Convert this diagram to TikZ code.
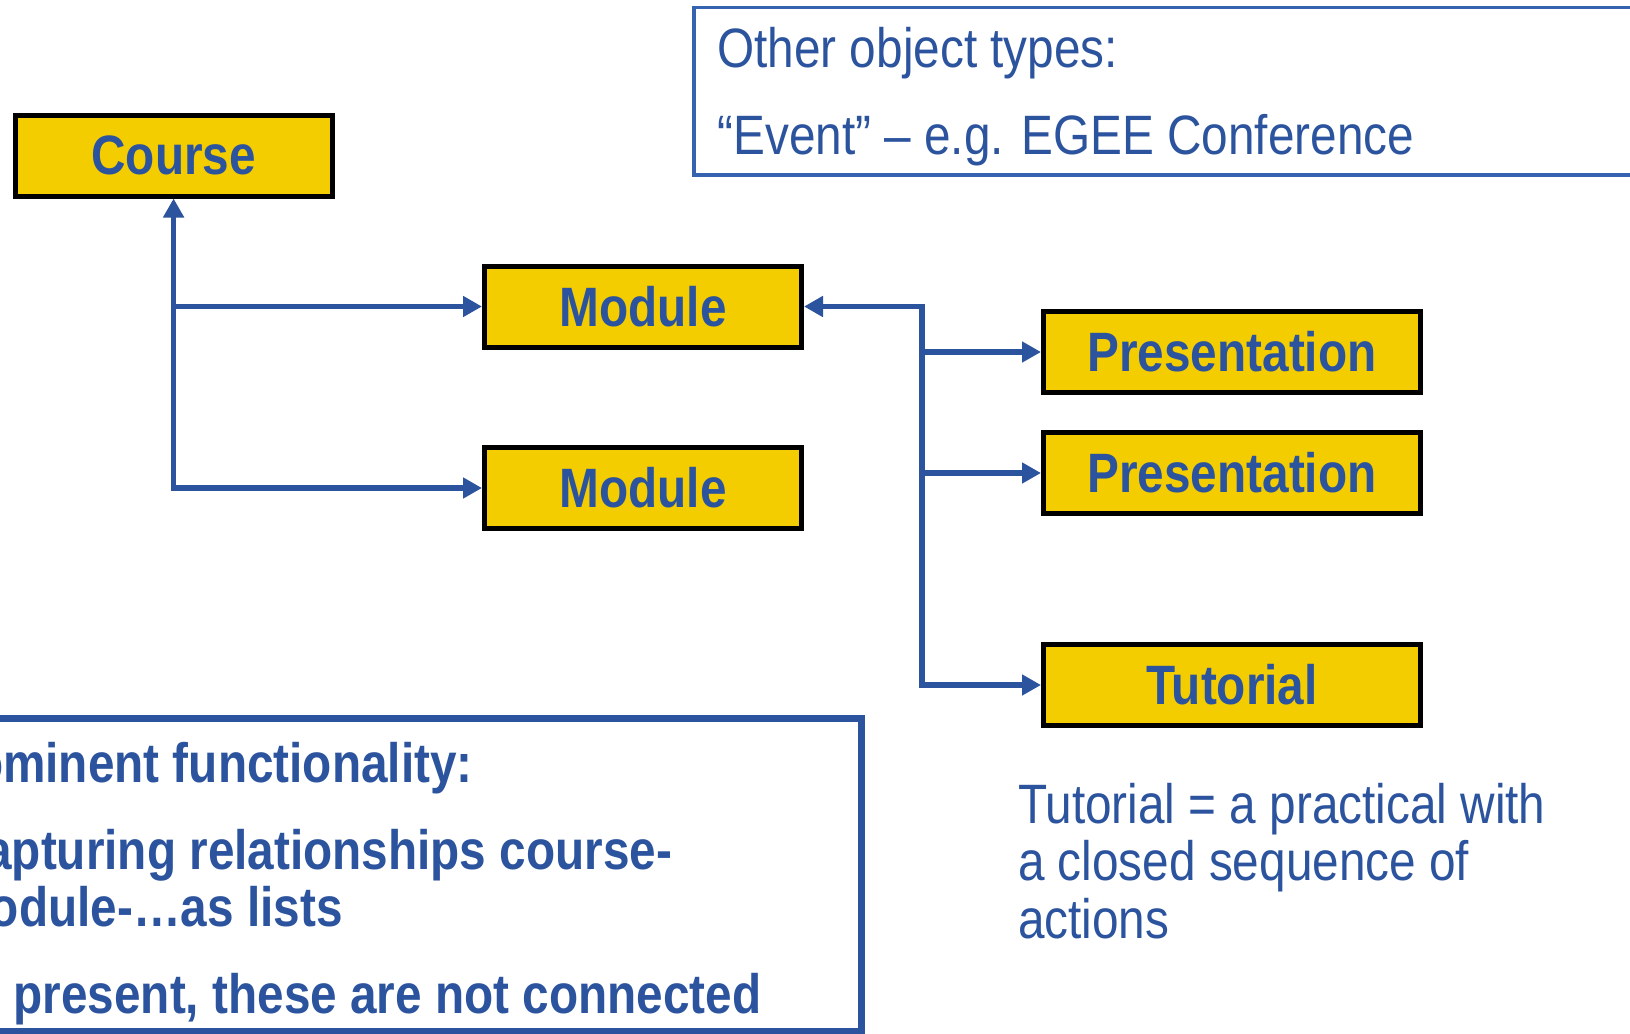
\documentclass[tikz,border=0pt]{standalone}
\usepackage{fontspec}
\setmainfont{Liberation Sans}[FakeStretch=0.86]
\usepackage{xcolor}
\usetikzlibrary{arrows.meta}

\definecolor{egeeblue}{HTML}{2C549E}
\definecolor{frameblue}{HTML}{3563B0}
\definecolor{egeeyellow}{HTML}{F4CD00}

\begin{document}
\begin{tikzpicture}[x=0.5pt,y=-0.5pt,
    >={Triangle[length=9.5pt,width=10pt]},
    objbox/.style={draw=black,fill=egeeyellow,line width=2.5pt,
        minimum width=158.5pt,minimum height=40.5pt,inner sep=0pt,
        text=egeeblue,font=\bfseries\fontsize{27.75}{29}\selectfont},
    widebox/.style={objbox,minimum width=188.5pt},
    link/.style={draw=egeeblue,line width=2.7pt},
    plaintext/.style={inner sep=0pt,text=egeeblue,font=\fontsize{27.75}{29}\selectfont},
    boldtext/.style={plaintext,font=\bfseries\fontsize{27.75}{29}\selectfont}]
        \useasboundingbox (0,0) rectangle (1630,1034);
        \clip (0,0) rectangle (1630,1034);
        \fill[white] (0,0) rectangle (1630,1034);

        % object boxes
        \node[objbox] (course) at (173.6,155.5) {Course};
        \node[objbox] (mod1) at (643,306.5) {Module};
        \node[objbox] (mod2) at (643,488) {Module};
        \node[widebox] (pres1) at (1232,352) {Presentation};
        \node[widebox] (pres2) at (1232,473) {Presentation};
        \node[widebox] (tut) at (1232,685) {Tutorial};

        % course -- modules
        \draw[link,<->] (course.south) |- (mod2.west);
        \draw[link,->] (course.south |- mod1.west) -- (mod1.west);

        % module -- presentations, tutorial
        \coordinate (bus) at (922,306.5);
        \draw[link,<->] (tut.west) -| (bus) -- (mod1.east);
        \draw[link,->] (bus |- pres1.west) -- (pres1.west);
        \draw[link,->] (bus |- pres2.west) -- (pres2.west);

        % other object types
        \draw[frameblue,line width=1.75pt] (694,7.5) rectangle (1660,175);
        \node[plaintext,anchor=base west] (other) at (717,67.6) {Other object types:};
        \node[plaintext,anchor=base west] (event) at (717,154) {“Event” – e.g. EGEE Conference};

        % tutorial note
        \node[plaintext,anchor=base west] (note1) at (1017.7,823) {Tutorial = a practical with};
        \node[plaintext,anchor=base west] (note2) at (1017.7,880.5) {a closed sequence of};
        \node[plaintext,anchor=base west] (note3) at (1017.7,938.5) {actions};

        % functionality
        \draw[egeeblue,line width=3.5pt] (-30,718.5) rectangle (861.5,1031.5);
        \node[boldtext,anchor=base east] (func) at (473,782.7) {Prominent functionality:};
        \node[boldtext,anchor=base east] (capt1) at (672.6,869) {Capturing relationships course-};
        \node[boldtext,anchor=base east] (capt2) at (343,926) {module-…as lists};
        \node[boldtext,anchor=base east] (conn) at (762,1013.5) {At present, these are not connected};
\end{tikzpicture}
\end{document}
